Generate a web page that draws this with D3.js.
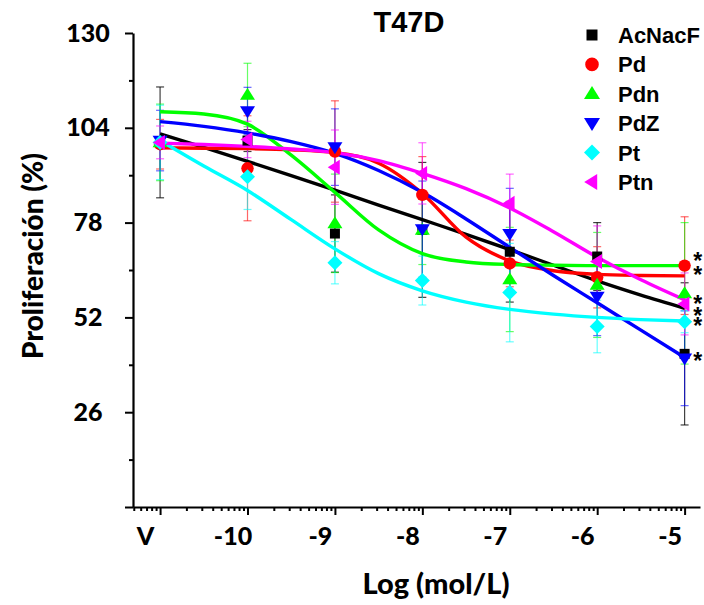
<!DOCTYPE html>
<html>
<head>
<meta charset="utf-8">
<script src="https://cdn.jsdelivr.net/npm/d3@7"></script>
<style>
  html, body { margin: 0; padding: 0; background: #fff; }
  svg { display: block; }
</style>
</head>
<body>
<svg id="chart" width="704" height="605"></svg>
<script>
// ---------- DATA ----------
const seriesNames = ["AcNacF", "Pd", "Pdn", "PdZ", "Pt", "Ptn"];
const xTickLabels = ["V", "-10", "-9", "-8", "-7", "-6", "-5"];
const concentrations = [1e-11, 1e-10, 1e-9, 1e-8, 1e-7, 1e-6, 1e-5];
const yTickValues = [0, 26, 52, 78, 104, 130];
const yMinorValues = [13, 39, 65, 91, 117];

const meanAcNacF = [100, 100.5, 75, 76, 70, 68.7, 42];
const meanPd     = [99.5, 92.9, 97.5, 85.6, 66.8, 63, 66.2];
const meanPdn    = [100, 113, 77.8, 76, 62.4, 60.9, 58.6];
const meanPdZ    = [100.5, 108.6, 98.7, 76.2, 74.9, 57.7, 40.8];
const meanPt     = [100, 90.6, 67, 62.1, 58.8, 49.5, 50.8];
const meanPtn    = [100, 100.8, 93.2, 91.5, 83.3, 67.3, 55.7];

const errAcNacF = [15.2, 3, 10.6, 18.5, 13.8, 9.3, 19.5];
const errPd     = [6.8, 14.4, 13.9, 10.5, 6.4, 8.4, 13.4];
const errPdn    = [10.5, 8.7, 13.5, 9.5, 14.3, 14.4, 19.4];
const errPdZ    = [8.3, 6.5, 10.5, 13.2, 12.5, 10.7, 13];
const errPt     = [10.2, 9, 5.8, 6.7, 13.5, 7.2, 3];
const errPtn    = [4.5, 5, 10.2, 8.4, 8, 9.8, 8.5];

// fitted curves, read at half-decade steps from 1e-11 to 1e-5
const curveConc = [1e-11, 3.162e-11, 1e-10, 3.162e-10, 1e-9, 3.162e-9, 1e-8, 3.162e-8, 1e-7, 3.162e-7, 1e-6, 3.162e-6, 1e-5];
const fitAcNacF = [102.3, 98.6, 94.8, 90.9, 86.9, 82.8, 78.8, 74.8, 70.6, 66.3, 62, 58.1, 54.5];
const fitPd     = [98.5, 98.4, 98.3, 98, 97.2, 94.3, 86, 74, 67.5, 64.8, 63.8, 63.5, 63.4];
const fitPdn    = [108.4, 107.8, 105, 96.5, 86.3, 76, 69.5, 67.2, 66.5, 66.3, 66.2, 66.2, 66.2];
const fitPdZ    = [105.7, 104.4, 102.6, 100.2, 97, 92.3, 86.3, 79, 71.2, 63.5, 56, 48.5, 41];
const fitPt     = [100.5, 93.5, 86.8, 78.8, 70.8, 64, 59.3, 56.2, 54.2, 52.9, 52, 51.4, 51];
const fitPtn    = [99.8, 99.4, 98.9, 98.2, 97.2, 95, 91.5, 87.3, 82, 75.5, 68.5, 62.3, 56.8];

// significance asterisks at 1e-5
const asteriskValues = [68.6, 64.6, 56.8, 53.5, 50.7, 41.1];

const colors = ["#000000", "#ff0000", "#00ff00", "#0000ff", "#00ffff", "#ff00ff"];
const shapes = ["square", "circle", "triangleUp", "triangleDown", "diamond", "triangleLeft"];

const means = [meanAcNacF, meanPd, meanPdn, meanPdZ, meanPt, meanPtn];
const errs = [errAcNacF, errPd, errPdn, errPdZ, errPt, errPtn];
const fits = [fitAcNacF, fitPd, fitPdn, fitPdZ, fitPt, fitPtn];

const series = seriesNames.map((name, i) => ({
  name, color: colors[i], shape: shapes[i],
  points: concentrations.map((c, j) => ({ c, v: means[i][j], e: errs[i][j] })),
  fit: curveConc.map((c, j) => ({ c, v: fits[i][j] }))
}));

// ---------- CHART ----------
const svg = d3.select("#chart");
const x = d3.scaleLog().domain([4.9e-12, 1.5e-5]).range([133, 700]);
const y = d3.scaleLinear().domain([0, 130]).range([507, 33]);

const axisFont = "Lato, 'Open Sans', sans-serif";
const arialFont = "'Liberation Sans', Arial, sans-serif";

// marker path generator
function markerPath(shape, s) {
  const p = d3.path();
  if (shape === "square") { p.rect(-s.w / 2, -s.w / 2, s.w, s.w); }
  else if (shape === "circle") { p.arc(0, 0, s.r, 0, 2 * Math.PI); }
  else if (shape === "triangleUp") { p.moveTo(0, -s.h * 0.6); p.lineTo(s.tw / 2, s.h * 0.4); p.lineTo(-s.tw / 2, s.h * 0.4); p.closePath(); }
  else if (shape === "triangleDown") { p.moveTo(0, s.h * 0.6); p.lineTo(s.tw / 2, -s.h * 0.4); p.lineTo(-s.tw / 2, -s.h * 0.4); p.closePath(); }
  else if (shape === "diamond") { p.moveTo(0, -s.d / 2); p.lineTo(s.d / 2, 0); p.lineTo(0, s.d / 2); p.lineTo(-s.d / 2, 0); p.closePath(); }
  else if (shape === "triangleLeft") { p.moveTo(-s.h * 0.6, 0); p.lineTo(s.h * 0.4, -s.tw / 2); p.lineTo(s.h * 0.4, s.tw / 2); p.closePath(); }
  return p.toString();
}
const dataSize = { w: 10, r: 6.2, tw: 15, h: 12, d: 15 };
const legendSize = { w: 11, r: 6.8, tw: 16, h: 13, d: 16 };

// Y axis
const yAxis = svg.append("g").attr("transform", "translate(133,0)")
  .call(d3.axisLeft(y).tickValues(yTickValues).tickSize(8).tickSizeOuter(0)
    .tickFormat(d => d === 0 ? "" : d));
yAxis.selectAll("text").attr("x", -45).attr("text-anchor", "middle")
  .style("font-family", axisFont).style("font-weight", 900).style("font-size", "25px").attr("fill", "#000");
svg.append("g").attr("transform", "translate(133,0)")
  .call(d3.axisLeft(y).tickValues(yMinorValues).tickSize(4).tickSizeOuter(0).tickFormat(""))
  .select(".domain").remove();

// X axis
const xAxis = svg.append("g").attr("transform", "translate(0,507)")
  .call(d3.axisBottom(x).tickValues(concentrations).tickSize(8).tickSizeOuter(0)
    .tickFormat((d, i) => xTickLabels[i]));
xAxis.selectAll("text").attr("dx", -15).attr("y", 20)
  .style("font-family", axisFont).style("font-weight", 900).style("font-size", "25px").attr("fill", "#000");
const minorTicks = x.ticks().filter(t => Math.abs(Math.log10(t) - Math.round(Math.log10(t))) > 1e-6);
svg.append("g").attr("transform", "translate(0,507)")
  .call(d3.axisBottom(x).tickValues(minorTicks).tickSize(4).tickSizeOuter(0).tickFormat(""))
  .select(".domain").remove();

svg.selectAll(".domain").attr("stroke-width", 2.2).attr("stroke", "#000");
svg.selectAll(".tick line").attr("stroke-width", 2).attr("stroke", "#000");

// Error bars
const capW = 4;
series.forEach(s => {
  const g = svg.append("g").attr("stroke", s.color).attr("stroke-width", 1.2)
    .attr("stroke-opacity", s.color === "#000000" ? 0.75 : 0.6).attr("fill", "none");
  s.points.forEach(p => {
    const cx = x(p.c), y1 = y(p.v + p.e), y2 = y(p.v - p.e);
    g.append("line").attr("x1", cx).attr("x2", cx).attr("y1", y1).attr("y2", y2);
    g.append("line").attr("x1", cx - capW).attr("x2", cx + capW).attr("y1", y1).attr("y2", y1);
    g.append("line").attr("x1", cx - capW).attr("x2", cx + capW).attr("y1", y2).attr("y2", y2);
  });
});

// Fitted curves
const line = d3.line().x(d => x(d.c)).y(d => y(d.v)).curve(d3.curveMonotoneX);
series.forEach(s => {
  svg.append("path").datum(s.fit).attr("d", line)
    .attr("fill", "none").attr("stroke", s.color).attr("stroke-width", 3.4);
});

// Markers
series.forEach(s => {
  svg.append("g").selectAll("path").data(s.points).join("path")
    .attr("transform", d => `translate(${x(d.c)},${y(d.v)})`)
    .attr("d", markerPath(s.shape, dataSize)).attr("fill", s.color);
});

// Asterisks
svg.append("g").selectAll("text").data(asteriskValues).join("text")
  .attr("x", x(1e-5) + 13).attr("y", d => y(d) + 12)
  .attr("text-anchor", "middle")
  .style("font-family", arialFont).style("font-weight", 700).style("font-size", "23px")
  .text("*");

// Title
svg.append("text").attr("x", 409).attr("y", 32).attr("text-anchor", "middle")
  .style("font-family", arialFont).style("font-weight", 700).style("font-size", "29px")
  .text("T47D");

// Legend
const legend = svg.append("g");
series.forEach((s, i) => {
  const ly = 35 + i * 29.4;
  legend.append("path").attr("transform", `translate(592,${ly})`)
    .attr("d", markerPath(s.shape, legendSize)).attr("fill", s.color);
  legend.append("text").attr("x", 618).attr("y", ly + 8)
    .style("font-family", arialFont).style("font-weight", 700).style("font-size", "22px")
    .text(s.name);
});

// Axis titles
svg.append("text").attr("transform", "translate(43,256) rotate(-90)").attr("text-anchor", "middle")
  .style("font-family", axisFont).style("font-weight", 900).style("font-size", "28px")
  .text("Proliferación (%)");
svg.append("text").attr("x", 436).attr("y", 594).attr("text-anchor", "middle")
  .style("font-family", axisFont).style("font-weight", 900).style("font-size", "29px")
  .text("Log (mol/L)");
</script>
</body>
</html>
